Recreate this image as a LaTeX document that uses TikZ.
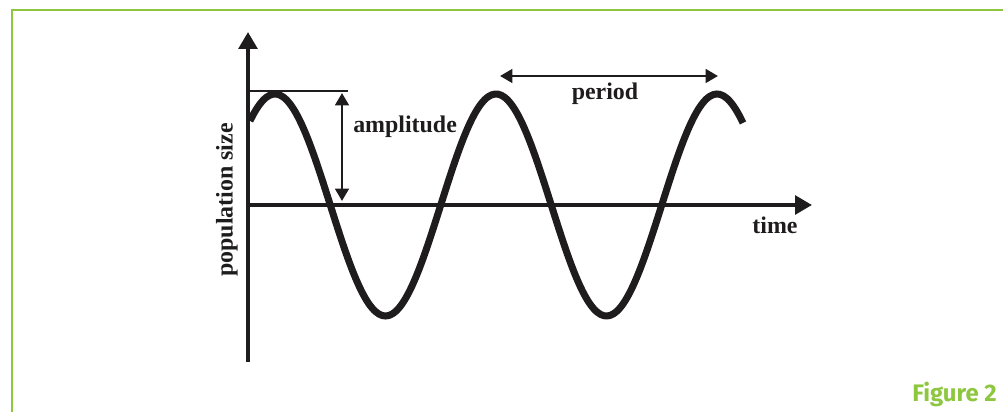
\documentclass[tikz,border=0pt]{standalone}
\usepackage{fontspec}
\setmainfont{Liberation Serif}
\newfontfamily\figfont{Fira Sans}
\usetikzlibrary{arrows.meta}
\definecolor{figgreen}{RGB}{141,198,63}
\definecolor{inkblack}{RGB}{30,28,28}

\begin{document}
\begin{tikzpicture}[
  x=0.025cm,y=0.025cm,
  frame/.style={draw=figgreen,line width=0.07cm},
  axis/.style={draw=inkblack,line width=0.1cm,-{Triangle[length=0.42cm,width=0.46cm]}},
  wave/.style={draw=inkblack,line width=0.175cm},
  guide/.style={draw=inkblack,line width=0.035cm},
  dimarrow/.style={draw=inkblack,line width=0.07cm,{Triangle[length=0.31cm,width=0.34cm]}-{Triangle[length=0.31cm,width=0.34cm]}},
  lbl/.style={font=\fontsize{17}{20}\selectfont\bfseries,text=inkblack,inner sep=0pt}
]
\useasboundingbox (-248,-207) rectangle (755,205);
% green frame
\draw[frame] (770,195) -| (-236,-220);
% axes
\coordinate (origin) at (0,0);
\coordinate (ybot) at (0,-157);
\coordinate (ytop) at (0,173);
\coordinate (xend) at (564,0);
\draw[axis] (ybot) -- (ytop);
\draw[axis] (origin) -- (xend);
% population curve
\draw[wave] plot[domain=2:495,samples=150,smooth] (\x,{111*cos((\x-27)/221*360)});
% amplitude
\coordinate (guideL) at (0,114);
\coordinate (guideR) at (100,114);
\draw[guide] (guideL) -- (guideR);
\coordinate (amptop) at (94,112);
\coordinate (ampbot) at (94,4);
\draw[dimarrow] (ampbot) -- (amptop);
\node[lbl,anchor=base west] (amplitude) at (105,72) {amplitude};
% period
\coordinate (perL) at (252,129);
\coordinate (perR) at (470,129);
\draw[dimarrow] (perL) -- (perR);
\node[lbl,anchor=base] (period) at (357,105) {period};
% axis labels
\node[lbl,anchor=base] (time) at (527,-29) {time};
\node[lbl,rotate=90] (popsize) at (-21,5) {population size};
% caption
\node[anchor=base east,inner sep=0pt,text=figgreen,font=\figfont\fontsize{17}{20}\selectfont\bfseries] (figlabel) at (749,-196) {Figure 2};
\end{tikzpicture}
\end{document}
